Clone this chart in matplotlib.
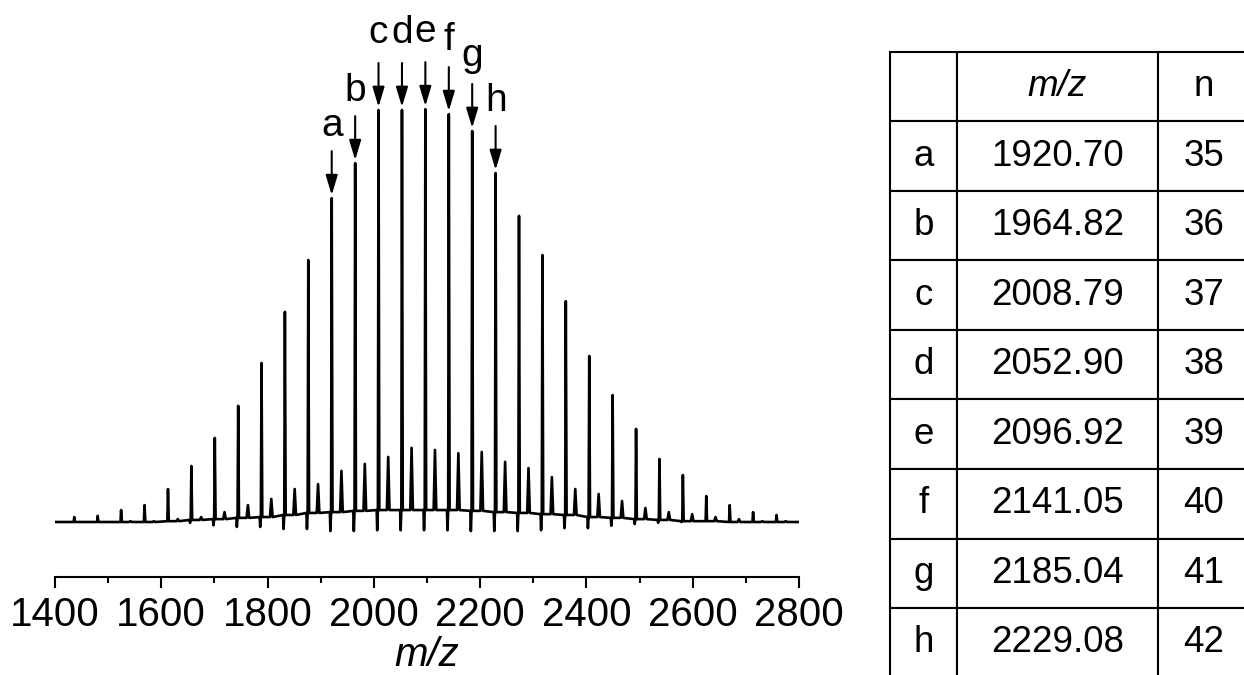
import matplotlib
matplotlib.use("Agg")
import matplotlib.pyplot as plt
from matplotlib.ticker import MultipleLocator

plt.rcParams['font.family'] = ['Liberation Sans', 'DejaVu Sans']

# main peak series (relative intensity, %)
main_mz = [1436.2, 1480.3, 1524.4, 1568.5, 1612.6, 1656.6, 1700.7, 1744.7, 1788.6, 1832.6,
           1876.6, 1920.70, 1964.82, 2008.79, 2052.90, 2096.92, 2141.05, 2185.04, 2229.08,
           2273.1, 2317.2, 2361.2, 2405.3, 2449.3, 2493.4, 2537.4, 2581.5, 2625.5, 2669.6,
           2713.6, 2757.7]
main_int = [1.2, 1.5, 2.9, 4.1, 8.0, 13.6, 20.4, 28.2, 38.6, 51.0,
            63.6, 78.6, 87.1, 100.0, 100.0, 100.2, 99.0, 94.9, 84.7,
            74.3, 64.8, 53.6, 40.3, 30.8, 22.6, 15.3, 11.4, 6.3, 4.1,
            2.4, 1.7]
# baseline level and negative dip at each main peak
base_lvl = [0, 0, 0, 0, 0.2, 0.5, 0.7, 1.0, 1.2, 1.7,
            2.2, 2.4, 2.7, 2.9, 2.9, 2.9, 2.9, 2.7, 2.4,
            2.2, 1.9, 1.7, 1.2, 1.0, 0.7, 0.5, 0.2, 0.2, 0,
            0, 0]
dip_depth = [0, 0, 0, 0, 0, 0.7, 1.5, 2.2, 2.4, 3.4,
             3.9, 4.6, 4.9, 4.9, 4.9, 4.9, 4.9, 4.9, 4.6,
             4.4, 3.9, 3.2, 2.7, 1.9, 1.2, 0.7, 0.2, 0, 0,
             0, 0]
# small satellite series
sat_mz = [1454, 1498, 1542, 1586, 1631, 1675, 1719, 1763, 1807, 1851,
          1895, 1939, 1983, 2027, 2071, 2115, 2159, 2203, 2247,
          2291, 2335, 2379, 2423, 2467, 2511, 2555, 2599, 2643, 2687,
          2731, 2775]
sat_int = [0, 0, 0.2, 0.2, 0.7, 1.2, 2.4, 4.1, 5.6, 8.0,
           9.2, 12.4, 14.1, 15.8, 18.0, 17.5, 16.7, 17.0, 14.6,
           13.1, 10.9, 8.0, 6.8, 5.1, 3.4, 2.4, 1.9, 1.2, 0.7,
           0.2, 0.2]

# labelled peaks
peak_labels = ['a', 'b', 'c', 'd', 'e', 'f', 'g', 'h']
peak_mz = [1920.70, 1964.82, 2008.79, 2052.90, 2096.92, 2141.05, 2185.04, 2229.08]
peak_n = [35, 36, 37, 38, 39, 40, 41, 42]
label_lift = [15, 15, 20, 20, 20, 17, 18, 15]   # px between arrow tail and letter

# build the trace
xs = [1400]
ys = [0]
for i in range(len(main_mz)):
    m, b = main_mz[i], base_lvl[i]
    xs += [m - 3.5, m - 2.5, m - 1.2, m, m + 1.5]
    ys += [b, b - dip_depth[i], b, main_int[i], b]
    s = sat_mz[i]
    if sat_int[i] > 0:
        xs += [s - 2.5, s, s + 2.5]
        ys += [b, sat_int[i], b]
xs.append(2800)
ys.append(0)

fig = plt.figure(figsize=(12.44, 6.75), dpi=100)
px = 100 / 412.0   # % per pixel
ax = fig.add_axes([55 / 1244, 98 / 675, 744 / 1244, 557 / 675])
ax.plot(xs, ys, color='black', lw=1.9)
ax.set_xlim(1400, 2800)
ax.set_ylim(-55 * px, 100 + 90 * px)
for sp in ['left', 'top', 'right']:
    ax.spines[sp].set_visible(False)
ax.spines['bottom'].set_linewidth(1.5)
ax.set_yticks([])
ax.xaxis.set_major_locator(MultipleLocator(200))
ax.xaxis.set_minor_locator(MultipleLocator(100))
ax.tick_params(axis='x', which='major', length=8, width=1.5, labelsize=29, pad=6)
ax.tick_params(axis='x', which='minor', length=4.3, width=1.5)
ax.set_xlabel('m/z', fontsize=29, fontstyle='italic', labelpad=1)

for lab, m in zip(peak_labels, peak_mz):
    h = main_int[main_mz.index(m)]
    ax.annotate('', xy=(m, h), xytext=(0, 47 * 0.72), textcoords='offset points',
                arrowprops=dict(arrowstyle='-|>,head_length=0.6,head_width=0.18',
                                color='black', lw=1.5, shrinkA=0, shrinkB=2.2,
                                mutation_scale=20))
    ax.annotate(lab, xy=(m, h), xytext=(0, (47 + label_lift[peak_labels.index(lab)]) * 0.72),
                textcoords='offset points', ha='center', va='baseline', fontsize=28)

# table on the right
tab_ax = fig.add_axes([890 / 1244, (675 - 677.5) / 675, 360 / 1244, 625.5 / 675])
tab_ax.axis('off')
cells = [['', 'm/z', 'n']]
for lab, m, n in zip(peak_labels, peak_mz, peak_n):
    cells.append([lab, f"{m:.2f}", str(n)])
tbl = tab_ax.table(cellText=cells, cellLoc='center', bbox=[0, 0, 1, 1],
                   colWidths=[67 / 360, 201 / 360, 92 / 360])
tbl.auto_set_font_size(False)
tbl.set_fontsize(26.5)
for (r, c), cell in tbl.get_celld().items():
    cell.set_linewidth(1.5)
    cell.set_edgecolor('black')
    if r == 0 and c == 1:
        cell.get_text().set_fontstyle('italic')

fig.savefig('out.png', dpi=100)
